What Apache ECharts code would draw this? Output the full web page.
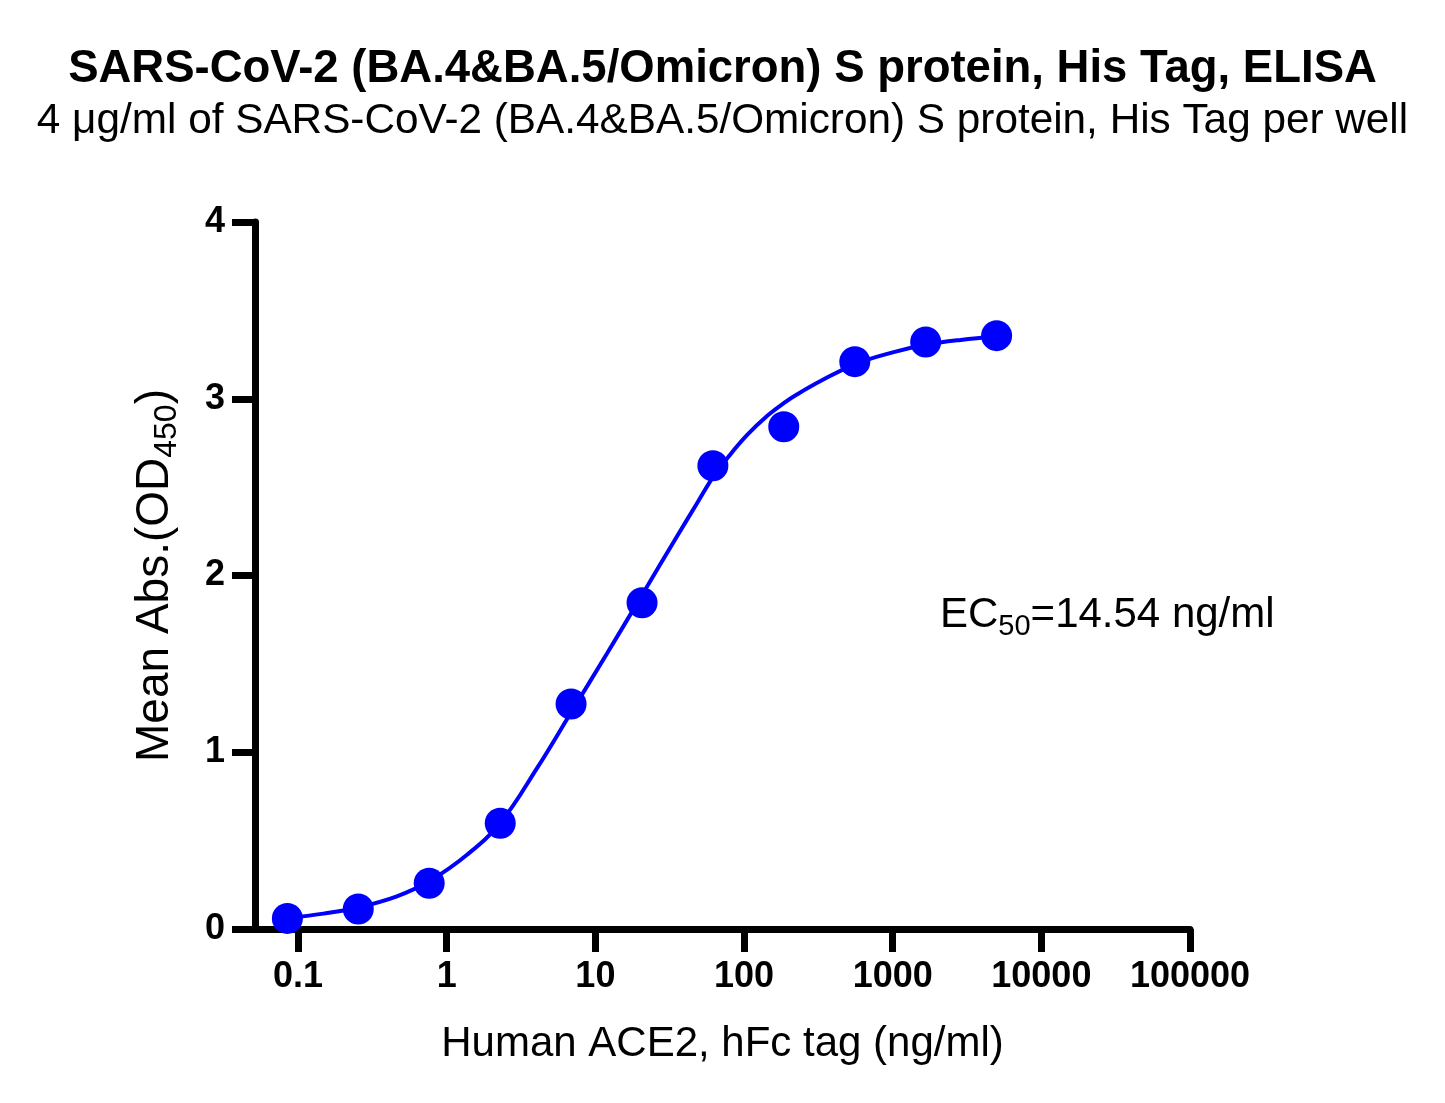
<!DOCTYPE html>
<html>
<head>
<meta charset="utf-8">
<title>SARS-CoV-2 (BA.4&BA.5/Omicron) S protein ELISA</title>
<script src="https://cdn.jsdelivr.net/npm/echarts@6.0.0/dist/echarts.min.js"></script>
<style>
  html, body { margin: 0; padding: 0; background: #fff; }
  #chart { width: 1445px; height: 1103px; }
</style>
</head>
<body>
<div id="chart"></div>
<script>
// measured points (3-fold dilution of ACE2)
var conc = [0.0847, 0.254, 0.762, 2.29, 6.86, 20.6, 61.7, 185, 556, 1667, 5000];
var meanAbs = [0.06, 0.113, 0.259, 0.598, 1.273, 1.846, 2.621, 2.842, 3.21, 3.321, 3.357];

// fitted curve
var fitConc = [0.0847, 0.148, 0.254, 0.462, 0.762, 1.37, 2.29, 4.05, 6.86, 12.0, 20.6,
               35.6, 48.4, 61.7, 80, 105, 144, 185, 228, 327, 556, 1000, 1667, 2870, 5000];
var fitAbs = [0.062, 0.087, 0.122, 0.185, 0.270, 0.42, 0.600, 0.91, 1.225, 1.56, 1.89,
              2.225, 2.41, 2.555, 2.68, 2.795, 2.905, 2.975, 3.025, 3.10, 3.195, 3.262, 3.305, 3.333, 3.352];

var xTicks = [0.1, 1, 10, 100, 1000, 10000, 100000];

var FONT = "'Liberation Sans', Arial, sans-serif";
var BLUE = '#0000ff';

function pairs(xs, ys) {
    var out = [];
    for (var i = 0; i < xs.length; i++) out.push([xs[i], ys[i]]);
    return out;
}

var myChart = echarts.init(document.getElementById('chart'));
var option = {
    backgroundColor: '#fff',
    animation: false,
    title: [{
        text: 'SARS-CoV-2 (BA.4&BA.5/Omicron) S protein, His Tag, ELISA',
        left: 'center',
        top: 46,
        padding: 0,
        textStyle: { fontFamily: FONT, fontSize: 45.5, fontWeight: 'bold', color: '#000' }
    }, {
        text: '4 μg/ml of SARS-CoV-2 (BA.4&BA.5/Omicron) S protein, His Tag per well',
        left: 'center',
        top: 100,
        padding: 0,
        textStyle: { fontFamily: FONT, fontSize: 42.3, fontWeight: 'normal', color: '#000' }
    }],
    grid: { left: 255, right: 255, top: 222, bottom: 174 },
    xAxis: {
        type: 'log',
        logBase: 10,
        min: 0.0513,
        max: 100000,
        name: 'Human ACE2, hFc tag (ng/ml)',
        nameLocation: 'middle',
        nameGap: 94,
        nameTextStyle: { fontFamily: FONT, fontSize: 42, color: '#000' },
        axisLine: { show: true, onZero: false, lineStyle: { color: '#000', width: 7 } },
        axisTick: { show: true, length: 23, customValues: xTicks, lineStyle: { color: '#000', width: 7 } },
        axisLabel: {
            customValues: xTicks,
            margin: 30,
            fontFamily: FONT, fontSize: 36, fontWeight: 'bold', color: '#000',
            formatter: function (v) { return String(v); }
        },
        splitLine: { show: false },
        minorTick: { show: false }
    },
    yAxis: {
        type: 'value',
        min: 0,
        max: 4,
        interval: 1,
        name: '{n|Mean Abs.(OD}{s|450}{n|)}',
        nameLocation: 'middle',
        nameGap: 72,
        nameTextStyle: {
            rich: {
                n: { fontFamily: FONT, fontSize: 46, color: '#000' },
                s: { fontFamily: FONT, fontSize: 32, color: '#000', padding: [24, 0, 0, 0] }
            }
        },
        axisLine: { show: true, onZero: false, lineStyle: { color: '#000', width: 7 } },
        axisTick: { show: true, length: 23, lineStyle: { color: '#000', width: 7 } },
        axisLabel: {
            margin: 30,
            fontFamily: FONT, fontSize: 36, fontWeight: 'bold', color: '#000'
        },
        splitLine: { show: false }
    },
    graphic: [{
        type: 'text',
        left: 940,
        top: 594,
        style: {
            text: '{n|EC}{s|50}{n|=14.54 ng/ml}',
            rich: {
                n: { fontFamily: FONT, fontSize: 42, fill: '#000' },
                s: { fontFamily: FONT, fontSize: 29, fill: '#000', padding: [24, 0, 0, 0] }
            }
        }
    }],
    series: [{
        name: 'fit',
        type: 'line',
        data: pairs(fitConc, fitAbs),
        smooth: 0.4,
        showSymbol: false,
        symbol: 'none',
        lineStyle: { color: BLUE, width: 4 },
        z: 2
    }, {
        name: 'Mean Abs.',
        type: 'scatter',
        data: pairs(conc, meanAbs),
        symbol: 'circle',
        symbolSize: 31,
        itemStyle: { color: BLUE, opacity: 1 },
        z: 3
    }]
};
myChart.setOption(option);
</script>
</body>
</html>
